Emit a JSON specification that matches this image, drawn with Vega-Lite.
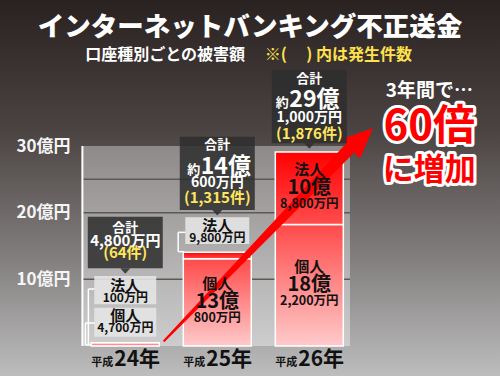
{
"$schema": "https://vega.github.io/schema/vega-lite/v6.json",
"width": 500, "height": 376, "autosize": "none", "padding": 0,
"background": "#2b2222",
"view": {"stroke": null, "fill": {"gradient": "linear", "x1": 0, "y1": 0, "x2": 0, "y2": 1, "stops": [{"offset": 0, "color": "#2a2121"}, {"offset": 0.35, "color": "#4b4443"}, {"offset": 0.7, "color": "#858181"}, {"offset": 1, "color": "#bdbdbd"}]}},
"config": {"axis": {"grid": false}, "axisX": {"disable": true}, "text": {"font": "Noto Sans CJK JP", "fontWeight": "bold"}},
"datasets": {
 "segments": [
  {"year": 24, "type": "個人", "amount": 0.47, "oku": "", "man": "4,700万円"},
  {"year": 24, "type": "法人", "amount": 0.01, "oku": "", "man": "100万円"},
  {"year": 25, "type": "個人", "amount": 13.08, "oku": "13億", "man": "800万円"},
  {"year": 25, "type": "法人", "amount": 0.98, "oku": "", "man": "9,800万円"},
  {"year": 26, "type": "個人", "amount": 18.22, "oku": "18億", "man": "2,200万円"},
  {"year": 26, "type": "法人", "amount": 10.88, "oku": "10億", "man": "8,800万円"}
 ],
 "totals": [
  {"year": 24, "era": "平成", "nen": "24年", "total": 0.48, "sum": "合計", "approx": "", "oku": "", "man": "4,800万円", "cases": "(64件)"},
  {"year": 25, "era": "平成", "nen": "25年", "total": 14.06, "sum": "合計", "approx": "約", "oku": "14億", "man": "600万円", "cases": "(1,315件)"},
  {"year": 26, "era": "平成", "nen": "26年", "total": 29.1, "sum": "合計", "approx": "約", "oku": "29億", "man": "1,000万円", "cases": "(1,876件)"}
 ],
 "grid": [{"v": 10}, {"v": 20}, {"v": 25}],
 "labels": [{"title": "インターネットバンキング不正送金", "sub": "口座種別ごとの被害額", "subnote": "※(　 ) 内は発生件数", "head": "3年間で…", "big": "60倍", "tail": "に増加"}]
},
"layer": [
 {"data": {"name": "labels"},
  "mark": {"type": "rect", "fill": {"gradient": "linear", "x1": 0, "y1": 0, "x2": 0, "y2": 1, "stops": [{"offset": 0, "color": "#8e8a89"}, {"offset": 1, "color": "#cdcdcd"}]}},
  "encoding": {
   "x": {"datum": 23.534, "type": "quantitative", "scale": {"domain": [22.693, 28.018], "nice": false, "zero": false}},
   "x2": {"datum": 26.442},
   "y": {"datum": 0, "type": "quantitative", "scale": {"domain": [-4.5, 51.9], "nice": false, "zero": false}},
   "y2": {"datum": 30}}},
 {"data": {"name": "grid"},
  "mark": {"type": "rule", "stroke": "#5d5858", "strokeWidth": 1.5},
  "encoding": {
   "x": {"datum": 23.534, "type": "quantitative"},
   "x2": {"datum": 26.442},
   "y": {"field": "v", "type": "quantitative", "axis": {"values": [10, 20, 30], "labelExpr": "datum.value + '億円'", "ticks": false, "tickSize": 0, "domain": false, "grid": false, "labelPadding": -70, "labelFontSize": 17, "labelColor": "#f5f5f5", "labelFont": "Noto Sans CJK JP", "labelFontWeight": "bold", "labelAlign": "right", "labelBaseline": "middle", "title": null, "labelOverlap": false, "labelFlush": false}}}},
 {"data": {"name": "labels"}, "mark": {"type": "rule", "stroke": "white", "strokeWidth": 2},
  "encoding": {"x": {"datum": 23.534, "type": "quantitative"}, "y": {"datum": 0, "type": "quantitative"}, "y2": {"datum": 30}}},
 {"data": {"name": "labels"}, "mark": {"type": "rule", "stroke": "white", "strokeWidth": 1.5},
  "encoding": {"x": {"datum": 23.599, "type": "quantitative"}, "y": {"datum": 0.15, "type": "quantitative"}, "y2": {"datum": 8.55}}},
 {"data": {"name": "labels"}, "mark": {"type": "rule", "stroke": "white", "strokeWidth": 1.5},
  "encoding": {"x": {"datum": 23.599, "type": "quantitative"}, "x2": {"datum": 23.67}, "y": {"datum": 8.55, "type": "quantitative"}}},
 {"data": {"name": "labels"}, "mark": {"type": "rule", "stroke": "white", "strokeWidth": 1.5},
  "encoding": {"x": {"datum": 23.567, "type": "quantitative"}, "y": {"datum": 0.15, "type": "quantitative"}, "y2": {"datum": 3.45}}},
 {"data": {"name": "labels"}, "mark": {"type": "rule", "stroke": "white", "strokeWidth": 1.5},
  "encoding": {"x": {"datum": 23.567, "type": "quantitative"}, "x2": {"datum": 23.67}, "y": {"datum": 3.45, "type": "quantitative"}}},
 {"data": {"name": "labels"}, "mark": {"type": "rule", "stroke": "white", "strokeWidth": 1.5},
  "encoding": {"x": {"datum": 23.567, "type": "quantitative"}, "x2": {"datum": 23.64}, "y": {"datum": 0.15, "type": "quantitative"}}},
 {"data": {"name": "labels"}, "mark": {"type": "rule", "stroke": "white", "strokeWidth": 1.5},
  "encoding": {"x": {"datum": 24.575, "type": "quantitative"}, "y": {"datum": 14.15, "type": "quantitative"}, "y2": {"datum": 17.05}}},
 {"data": {"name": "labels"}, "mark": {"type": "rule", "stroke": "white", "strokeWidth": 1.5},
  "encoding": {"x": {"datum": 24.575, "type": "quantitative"}, "x2": {"datum": 24.655}, "y": {"datum": 17.05, "type": "quantitative"}}},
 {"data": {"name": "labels"}, "mark": {"type": "rule", "stroke": "white", "strokeWidth": 1.5},
  "encoding": {"x": {"datum": 24.575, "type": "quantitative"}, "x2": {"datum": 24.64}, "y": {"datum": 14.15, "type": "quantitative"}}},
 {"data": {"name": "segments"},
  "transform": [{"stack": "amount", "groupby": ["year"], "sort": [{"field": "type", "order": "ascending"}], "as": ["lo", "hi"]}],
  "encoding": {"x": {"field": "year", "type": "quantitative"}, "y": {"field": "lo", "type": "quantitative"}, "y2": {"field": "hi"}},
  "layer": [
   {"transform": [{"filter": "datum.type === '個人'"}],
    "mark": {"type": "bar", "size": 68, "stroke": "white", "strokeWidth": 1.5, "fill": {"gradient": "linear", "x1": 0, "y1": 0, "x2": 0, "y2": 1, "stops": [{"offset": 0, "color": "#ff4a4a"}, {"offset": 1, "color": "#ffcaca"}]}}},
   {"transform": [{"filter": "datum.type === '法人'"}],
    "mark": {"type": "bar", "size": 68, "stroke": "white", "strokeWidth": 1.5, "fill": {"gradient": "linear", "x1": 0, "y1": 0, "x2": 0, "y2": 1, "stops": [{"offset": 0, "color": "#ff0000"}, {"offset": 1, "color": "#ff4d4d"}]}}}
  ]},
 {"data": {"name": "totals"}, "transform": [{"filter": "datum.year !== 25"}],
  "mark": {"type": "trail", "color": "#ff0000", "xOffset": 39, "yOffset": -2},
  "encoding": {"x": {"field": "year", "type": "quantitative"}, "y": {"field": "total", "type": "quantitative"},
   "size": {"field": "total", "type": "quantitative", "scale": {"domain": [0, 29.1], "range": [2, 12]}, "legend": null}}},
 {"data": {"name": "totals"}, "transform": [{"filter": "datum.year === 26"}],
  "mark": {"type": "point", "shape": "M0,-1L0.85,0.9L-0.85,0.9Z", "size": 1000, "angle": 47, "filled": true, "color": "#ff0000", "opacity": 1, "strokeWidth": 0, "xOffset": 52, "yOffset": -13},
  "encoding": {"x": {"field": "year", "type": "quantitative"}, "y": {"field": "total", "type": "quantitative"}}},
 {"data": {"name": "segments"},
  "transform": [{"stack": "amount", "groupby": ["year"], "sort": [{"field": "type", "order": "ascending"}], "as": ["lo", "hi"]}, {"filter": "datum.oku !== ''"}, {"fold": ["lo", "hi"], "as": ["edge", "pos"]}, {"aggregate": [{"op": "mean", "field": "pos", "as": "mid"}], "groupby": ["year", "type", "oku", "man"]}],
  "encoding": {"x": {"field": "year", "type": "quantitative"}, "y": {"field": "mid", "type": "quantitative"}},
  "layer": [
   {"mark": {"type": "text", "fontSize": 15, "dy": -18, "color": "#111111"}, "encoding": {"text": {"field": "type"}}},
   {"mark": {"type": "text", "fontSize": 20, "color": "#111111"}, "encoding": {"text": {"field": "oku"}}},
   {"mark": {"type": "text", "fontSize": 12.5, "dy": 15.5, "color": "#111111"}, "encoding": {"text": {"field": "man"}}}
  ]},
 {"data": {"name": "segments"}, "transform": [{"filter": "datum.year === 24 && datum.type === '法人'"}],
  "encoding": {"x": {"field": "year", "type": "quantitative"}},
  "layer": [
   {"mark": {"type": "bar", "size": 62, "fill": "#e4e4e4", "opacity": 0.9}, "encoding": {"y": {"datum": 6.25, "type": "quantitative"}, "y2": {"datum": 10.5}}},
   {"mark": {"type": "text", "fontSize": 15, "color": "#111111"}, "encoding": {"y": {"datum": 9.05, "type": "quantitative"}, "text": {"field": "type"}}},
   {"mark": {"type": "text", "fontSize": 12, "color": "#111111"}, "encoding": {"y": {"datum": 7.2, "type": "quantitative"}, "text": {"field": "man"}}}
  ]},
 {"data": {"name": "segments"}, "transform": [{"filter": "datum.year === 24 && datum.type === '個人'"}],
  "encoding": {"x": {"field": "year", "type": "quantitative"}},
  "layer": [
   {"mark": {"type": "bar", "size": 62, "fill": "#e4e4e4", "opacity": 0.9}, "encoding": {"y": {"datum": 1.4, "type": "quantitative"}, "y2": {"datum": 5.75}}},
   {"mark": {"type": "text", "fontSize": 15, "color": "#111111"}, "encoding": {"y": {"datum": 4.45, "type": "quantitative"}, "text": {"field": "type"}}},
   {"mark": {"type": "text", "fontSize": 12, "color": "#111111"}, "encoding": {"y": {"datum": 2.7, "type": "quantitative"}, "text": {"field": "man"}}}
  ]},
 {"data": {"name": "segments"}, "transform": [{"filter": "datum.year === 25 && datum.type === '法人'"}],
  "encoding": {"x": {"field": "year", "type": "quantitative"}},
  "layer": [
   {"mark": {"type": "bar", "size": 64, "fill": "#e4e4e4", "opacity": 0.9}, "encoding": {"y": {"datum": 15.3, "type": "quantitative"}, "y2": {"datum": 19.3}}},
   {"mark": {"type": "text", "fontSize": 15, "color": "#111111"}, "encoding": {"y": {"datum": 18.05, "type": "quantitative"}, "text": {"field": "type"}}},
   {"mark": {"type": "text", "fontSize": 12, "color": "#111111"}, "encoding": {"y": {"datum": 16.2, "type": "quantitative"}, "text": {"field": "man"}}}
  ]},
 {"data": {"name": "totals"}, "transform": [{"filter": "datum.year === 24"}],
  "encoding": {"x": {"field": "year", "type": "quantitative"}},
  "layer": [
   {"mark": {"type": "bar", "size": 75, "fill": "#2e2e2e", "opacity": 0.85}, "encoding": {"y": {"datum": 11.65, "type": "quantitative"}, "y2": {"datum": 19.4}}},
   {"mark": {"type": "point", "shape": "M-1,0L1,0L0,1.1Z", "size": 100, "filled": true, "color": "#2e2e2e", "opacity": 0.85, "strokeWidth": 0}, "encoding": {"y": {"datum": 11.65, "type": "quantitative"}}},
   {"mark": {"type": "text", "fontSize": 13, "color": "white"}, "encoding": {"y": {"datum": 17.7, "type": "quantitative"}, "text": {"field": "sum"}}},
   {"mark": {"type": "text", "fontSize": 15, "color": "white"}, "encoding": {"y": {"datum": 15.8, "type": "quantitative"}, "text": {"field": "man"}}},
   {"mark": {"type": "text", "fontSize": 15, "color": "#ffe65c"}, "encoding": {"y": {"datum": 13.9, "type": "quantitative"}, "text": {"field": "cases"}}}
  ]},
 {"data": {"name": "totals"}, "transform": [{"filter": "datum.year === 25"}],
  "encoding": {"x": {"field": "year", "type": "quantitative"}},
  "layer": [
   {"mark": {"type": "bar", "size": 75, "fill": "#2e2e2e", "opacity": 0.85}, "encoding": {"y": {"datum": 20.4, "type": "quantitative"}, "y2": {"datum": 31.4}}},
   {"mark": {"type": "point", "shape": "M-1,0L1,0L0,1.1Z", "size": 100, "filled": true, "color": "#2e2e2e", "opacity": 0.85, "strokeWidth": 0}, "encoding": {"y": {"datum": 20.4, "type": "quantitative"}}},
   {"mark": {"type": "text", "fontSize": 13, "color": "white"}, "encoding": {"y": {"datum": 30.2, "type": "quantitative"}, "text": {"field": "sum"}}},
   {"mark": {"type": "text", "fontSize": 13, "color": "white", "align": "right", "baseline": "alphabetic", "dx": -17}, "encoding": {"y": {"datum": 25.8, "type": "quantitative"}, "text": {"field": "approx"}}},
   {"mark": {"type": "text", "fontSize": 23, "color": "white", "align": "left", "baseline": "alphabetic", "dx": -16.5}, "encoding": {"y": {"datum": 25.8, "type": "quantitative"}, "text": {"field": "oku"}}},
   {"mark": {"type": "text", "fontSize": 14, "color": "white"}, "encoding": {"y": {"datum": 24.45, "type": "quantitative"}, "text": {"field": "man"}}},
   {"mark": {"type": "text", "fontSize": 15, "color": "#ffe65c"}, "encoding": {"y": {"datum": 22.15, "type": "quantitative"}, "text": {"field": "cases"}}}
  ]},
 {"data": {"name": "totals"}, "transform": [{"filter": "datum.year === 26"}],
  "encoding": {"x": {"field": "year", "type": "quantitative"}},
  "layer": [
   {"mark": {"type": "bar", "size": 75, "fill": "#2e2e2e", "opacity": 0.85}, "encoding": {"y": {"datum": 30.4, "type": "quantitative"}, "y2": {"datum": 41.4}}},
   {"mark": {"type": "point", "shape": "M-1,0L1,0L0,1.1Z", "size": 100, "filled": true, "color": "#2e2e2e", "opacity": 0.85, "strokeWidth": 0}, "encoding": {"y": {"datum": 30.4, "type": "quantitative"}}},
   {"mark": {"type": "text", "fontSize": 13, "color": "white"}, "encoding": {"y": {"datum": 40.05, "type": "quantitative"}, "text": {"field": "sum"}}},
   {"mark": {"type": "text", "fontSize": 13, "color": "white", "align": "right", "baseline": "alphabetic", "dx": -20.5}, "encoding": {"y": {"datum": 35.9, "type": "quantitative"}, "text": {"field": "approx"}}},
   {"mark": {"type": "text", "fontSize": 23, "color": "white", "align": "left", "baseline": "alphabetic", "dx": -20}, "encoding": {"y": {"datum": 35.9, "type": "quantitative"}, "text": {"field": "oku"}}},
   {"mark": {"type": "text", "fontSize": 14, "color": "white"}, "encoding": {"y": {"datum": 34.25, "type": "quantitative"}, "text": {"field": "man"}}},
   {"mark": {"type": "text", "fontSize": 15, "color": "#ffe65c"}, "encoding": {"y": {"datum": 31.85, "type": "quantitative"}, "text": {"field": "cases"}}}
  ]},
 {"data": {"name": "totals"},
  "encoding": {"x": {"field": "year", "type": "quantitative"}, "y": {"datum": -3.0, "type": "quantitative"}},
  "layer": [
   {"mark": {"type": "text", "fontSize": 11, "color": "#111111", "align": "right", "baseline": "alphabetic", "dx": -12}, "encoding": {"text": {"field": "era"}}},
   {"mark": {"type": "text", "fontSize": 21, "color": "#111111", "align": "left", "baseline": "alphabetic", "dx": -11}, "encoding": {"text": {"field": "nen"}}}
  ]},
 {"data": {"name": "labels"},
  "layer": [
   {"mark": {"type": "text", "fontSize": 26.5, "color": "white", "fontWeight": 900}, "encoding": {"x": {"datum": 25.355, "type": "quantitative"}, "y": {"datum": 47.75, "type": "quantitative"}, "text": {"field": "title"}}},
   {"mark": {"type": "text", "fontSize": 16, "color": "white", "align": "right"}, "encoding": {"x": {"datum": 25.302, "type": "quantitative"}, "y": {"datum": 43.7, "type": "quantitative"}, "text": {"field": "sub"}}},
   {"mark": {"type": "text", "fontSize": 16, "color": "#ffe14d", "align": "left"}, "encoding": {"x": {"datum": 25.515, "type": "quantitative"}, "y": {"datum": 43.7, "type": "quantitative"}, "text": {"field": "subnote"}}},
   {"mark": {"type": "text", "fontSize": 19, "color": "white"}, "encoding": {"x": {"datum": 27.304, "type": "quantitative"}, "y": {"datum": 38.3, "type": "quantitative"}, "text": {"field": "head"}}},
   {"mark": {"type": "text", "fontSize": 42, "fill": "white", "stroke": "white", "strokeWidth": 6, "strokeJoin": "round"}, "encoding": {"x": {"datum": 27.304, "type": "quantitative"}, "y": {"datum": 32.8, "type": "quantitative"}, "text": {"field": "big"}}},
   {"mark": {"type": "text", "fontSize": 42, "color": "#ff0000"}, "encoding": {"x": {"datum": 27.304, "type": "quantitative"}, "y": {"datum": 32.8, "type": "quantitative"}, "text": {"field": "big"}}},
   {"mark": {"type": "text", "fontSize": 31, "fill": "white", "stroke": "white", "strokeWidth": 6, "strokeJoin": "round"}, "encoding": {"x": {"datum": 27.304, "type": "quantitative"}, "y": {"datum": 26.3, "type": "quantitative"}, "text": {"field": "tail"}}},
   {"mark": {"type": "text", "fontSize": 31, "color": "#ff0000"}, "encoding": {"x": {"datum": 27.304, "type": "quantitative"}, "y": {"datum": 26.3, "type": "quantitative"}, "text": {"field": "tail"}}}
  ]}
]
}
